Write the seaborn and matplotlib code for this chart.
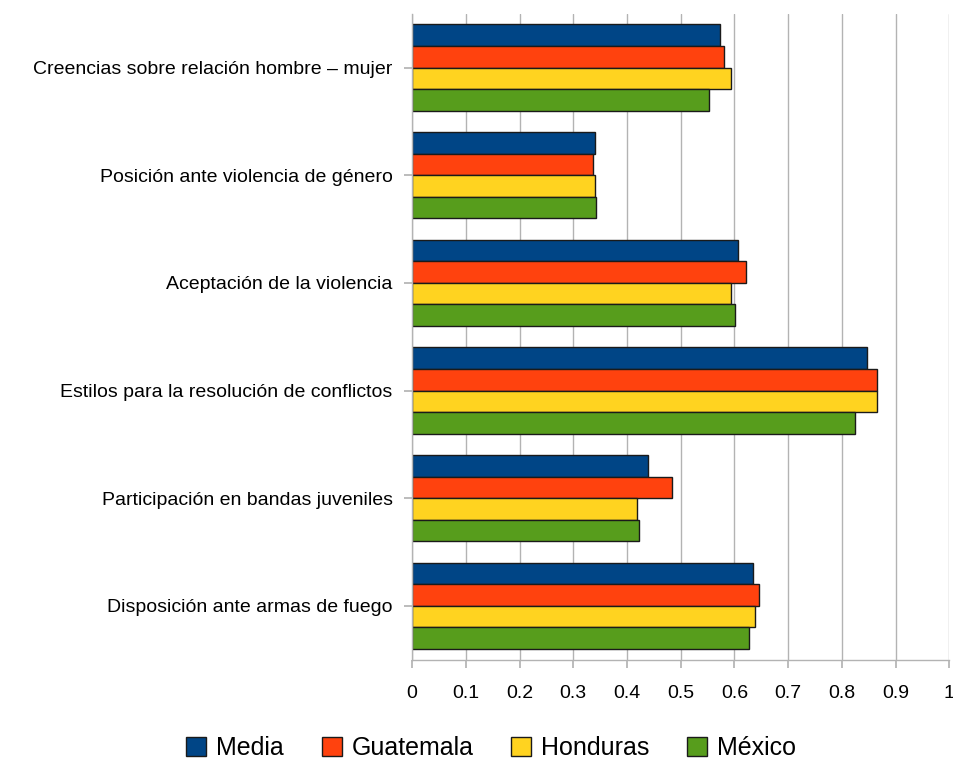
import matplotlib
matplotlib.use("Agg")
import matplotlib.pyplot as plt
import seaborn as sns
import numpy as np
import pandas as pd

sns.set_theme(style="white")
plt.rcParams['font.family'] = ['Liberation Sans', 'DejaVu Sans']
plt.rcParams['text.color'] = 'black'

categories = [
    'Creencias sobre relación hombre – mujer',
    'Posición ante violencia de género',
    'Aceptación de la violencia',
    'Estilos para la resolución de conflictos',
    'Participación en bandas juveniles',
    'Disposición ante armas de fuego',
]
series = ['Media', 'Guatemala', 'Honduras', 'México']
media = [0.573, 0.340, 0.606, 0.847, 0.440, 0.634]
guatemala = [0.580, 0.336, 0.621, 0.866, 0.483, 0.645]
honduras = [0.594, 0.340, 0.594, 0.866, 0.418, 0.638]
mexico = [0.552, 0.343, 0.602, 0.825, 0.422, 0.627]
colors = ['#004586', '#ff420e', '#ffd320', '#579d1c']

rows = []
for name, vals in zip(series, [media, guatemala, honduras, mexico]):
    for cat, v in zip(categories, vals):
        rows.append({'Categoría': cat, 'Serie': name, 'Valor': v})
df = pd.DataFrame(rows)

fig = plt.figure(figsize=(9.54, 7.6), dpi=100)
ax = fig.add_axes([0.432, 0.132, 0.563, 0.850])

sns.barplot(data=df, y='Categoría', x='Valor', hue='Serie', order=categories,
            hue_order=series, palette=colors, orient='h', width=0.8,
            edgecolor='#1a1a1a', linewidth=1.0, saturation=1, ax=ax, legend=True)

ax.set_xlim(0, 1)
ticks = np.round(np.arange(0, 1.01, 0.1), 1)
ax.set_xticks(ticks)
ax.set_xticklabels(['0' if t == 0 else ('1' if t == 1 else f'{t:g}') for t in ticks])
ax.xaxis.grid(True, color='#b3b3b3', linewidth=1)
ax.yaxis.grid(False)
ax.set_axisbelow(True)
ax.set_xlabel('')
ax.set_ylabel('')

for side in ['top', 'right']:
    ax.spines[side].set_visible(False)
for side in ['left', 'bottom']:
    ax.spines[side].set_color('#b3b3b3')
    ax.spines[side].set_linewidth(1)

ax.tick_params(axis='x', which='both', bottom=True, length=6, color='#b3b3b3',
               labelsize=14, pad=12, labelcolor='#000000')
ax.tick_params(axis='y', which='both', left=True, length=6, color='#b3b3b3',
               labelsize=14, pad=8, labelcolor='#000000')

handles, labels = ax.get_legend_handles_labels()
ax.get_legend().remove()
fig.legend(handles, labels, loc='center', bbox_to_anchor=(0.515, 0.016), ncol=4,
           frameon=False, fontsize=18, handlelength=0.8, handleheight=0.8,
           handletextpad=0.4, columnspacing=1.5, borderaxespad=0,
           labelcolor='black')

fig.savefig('out.png', dpi=100)
